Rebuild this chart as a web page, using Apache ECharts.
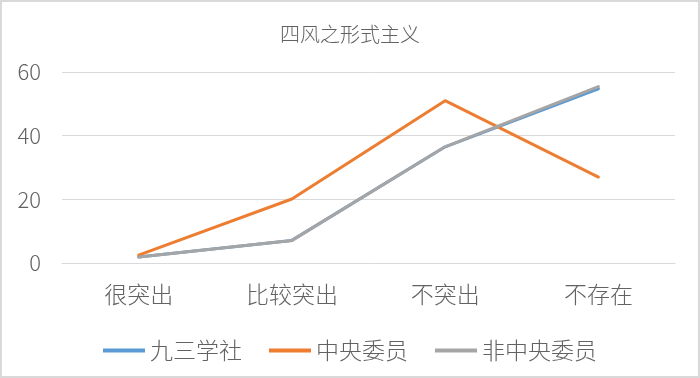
<!DOCTYPE html>
<html>
<head>
    <meta charset="utf-8"/>
    <title>四风之形式主义</title>
    <script src="https://cdn.jsdelivr.net/npm/echarts@6/dist/echarts.min.js"></script>
    <style>
        html, body { margin: 0; padding: 0; background: #fff; }
        #myChart { width: 700px; height: 378px; box-sizing: border-box; border: 2px solid #d9d9d9; }
    </style>
</head>
<body>
    <div id="myChart"></div>
<script type="text/javascript">
    // 数据
    var categories = ['很突出', '比较突出', '不突出', '不存在'];
    var jiusan = [1.9, 7.1, 36.5, 54.7];
    var zhongyang = [2.5, 20.1, 51, 27];
    var feizhongyang = [1.9, 7.1, 36.5, 55.4];
    var seriesNames = ['九三学社', '中央委员', '非中央委员'];
    var colors = ['#5B9BD5', '#ED7D31', '#A5A5A5'];

    var font = '"Noto Sans CJK SC", "Noto Sans", sans-serif';
    var textColor = '#626262';
    var myChart = echarts.init(document.getElementById('myChart'));

    var mkSeries = function (name, data, color) {
        return {
            name: name,
            type: 'line',
            data: data,
            symbol: 'none',
            smooth: false,
            lineStyle: { color: color, width: 3, cap: 'round', join: 'round' },
            itemStyle: { color: color }
        };
    };

    var option = {
        animation: false,
        color: colors,
        title: {
            text: '四风之形式主义',
            left: 'center',
            top: 17,
            textStyle: { fontFamily: font, fontSize: 20, fontWeight: 300, color: textColor }
        },
        legend: {
            top: 332,
            left: 'center',
            icon: 'rect',
            itemWidth: 42,
            itemHeight: 4,
            itemGap: 27,
            textStyle: { fontFamily: font, fontSize: 23, fontWeight: 300, color: textColor },
            data: seriesNames
        },
        grid: { left: 60, right: 23, top: 70, bottom: 113 },
        xAxis: {
            type: 'category',
            data: categories,
            boundaryGap: true,
            axisLine: { show: true, lineStyle: { color: '#d9d9d9' } },
            axisTick: { show: false },
            axisLabel: { fontFamily: font, fontSize: 23, fontWeight: 300, color: textColor, margin: 20 }
        },
        yAxis: {
            type: 'value',
            min: 0,
            max: 60,
            interval: 20,
            axisLine: { show: false },
            axisTick: { show: false },
            axisLabel: { fontFamily: font, fontSize: 22, fontWeight: 300, color: textColor, margin: 21 },
            splitLine: { lineStyle: { color: '#d9d9d9', width: 1 } }
        },
        series: [
            mkSeries(seriesNames[0], jiusan, colors[0]),
            mkSeries(seriesNames[1], zhongyang, colors[1]),
            mkSeries(seriesNames[2], feizhongyang, colors[2])
        ]
    };
    myChart.setOption(option);
</script>
</body>
</html>
